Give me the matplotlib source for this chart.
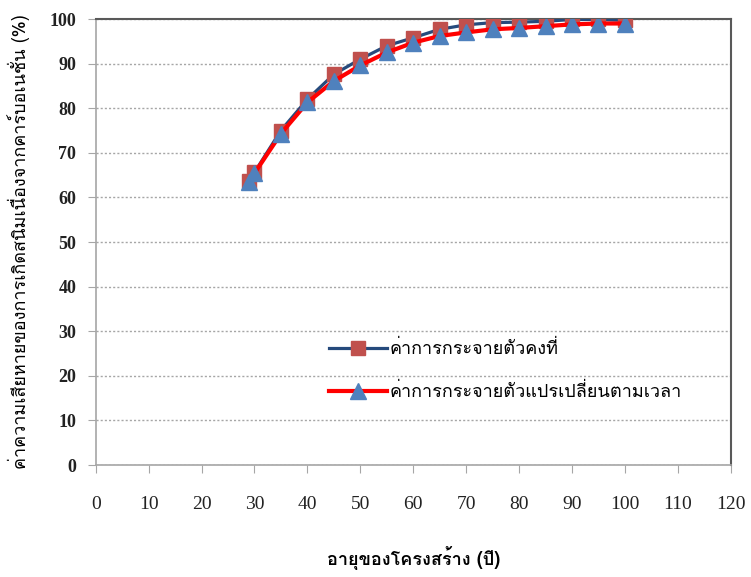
import matplotlib
matplotlib.use("Agg")
import matplotlib.pyplot as plt
from matplotlib import font_manager, ft2font

# ---- data ----
ages = [29, 30, 35, 40, 45, 50, 55, 60, 65, 70, 75, 80, 85, 90, 95, 100]
const_vals = [63.8, 65.6, 75.0, 82.0, 87.6, 91.0, 94.0, 95.8, 97.7, 98.7, 99.2, 99.3, 99.5, 99.9, 99.9, 99.7]
time_vals = [63.5, 65.4, 74.3, 81.3, 86.1, 89.6, 92.5, 94.7, 96.2, 97.0, 97.7, 98.0, 98.4, 98.8, 99.0, 99.0]
label_const = "ค่าการกระจายตัวคงที่"
label_time = "ค่าการกระจายตัวแปรเปลี่ยนตามเวลา"
xlabel = "อายุของโครงสร้าง (ปี)"
ylabel = "ค่าความเสียหายของการเกิดสนิมเนื่องจากคาร์บอเนชั่น (%)"
xticks = list(range(0, 121, 10))
yticks = list(range(0, 101, 10))


def find_thai():
    seen = set()
    for f in font_manager.fontManager.ttflist:
        if f.fname in seen:
            continue
        seen.add(f.fname)
        try:
            cm = ft2font.FT2Font(f.fname).get_charmap()
            if 0x0E04 in cm and 0x0E48 in cm:
                return f.name
        except Exception:
            pass
    return None

thai = find_thai()
thai_family = [thai, "DejaVu Sans"] if thai else ["DejaVu Sans"]

fig = plt.figure(figsize=(7.51, 5.77), dpi=100)
ax = fig.add_axes([0.1274, 0.194, 0.973 - 0.1274, 0.967 - 0.194])

ax.plot(ages, const_vals, color="#254A7C", lw=2.3, marker="s", markersize=10,
        markerfacecolor="#C0504D", markeredgecolor="#C0504D", label=label_const, zorder=3)
ax.plot(ages, time_vals, color="#FF0000", lw=3.0, marker="^", markersize=11,
        markerfacecolor="#4F81BD", markeredgecolor="#4F81BD", label=label_time, zorder=4)

ax.set_xlim(0, 120)
ax.set_ylim(0, 100)
ax.set_xticks(xticks)
ax.set_yticks(yticks)
ax.yaxis.grid(True, linestyle=(0, (1.5, 1.5)), color="#A6A6A6", lw=1.0)
ax.set_axisbelow(True)

for s in ["left", "bottom"]:
    ax.spines[s].set_color("#A6A6A6")
    ax.spines[s].set_linewidth(1.2)
for s in ["top", "right"]:
    ax.spines[s].set_color("#595959")
    ax.spines[s].set_linewidth(1.5)

ax.tick_params(axis="y", direction="out", length=6, color="#A6A6A6", pad=8)
ax.tick_params(axis="x", direction="out", length=6, color="#A6A6A6", pad=16)
for lab in ax.get_yticklabels():
    lab.set_fontfamily("Liberation Serif")
    lab.set_fontweight("bold")
    lab.set_fontsize(13)
    lab.set_color("#222222")
for lab in ax.get_xticklabels():
    lab.set_fontfamily("Liberation Serif")
    lab.set_fontsize(14)
    lab.set_color("#222222")

ax.set_xlabel(xlabel, family=thai_family, fontsize=13, fontweight="bold", labelpad=24)
ax.set_ylabel(ylabel, family=thai_family, fontsize=13, labelpad=14)

leg = ax.legend(loc="upper left", bbox_to_anchor=(322 / 751, 1 - 333 / 577),
                bbox_transform=fig.transFigure, frameon=False,
                prop={"family": thai_family, "size": 13},
                handlelength=3.2, handletextpad=0.15, labelspacing=1.35, borderaxespad=0)

fig.savefig("out.png", dpi=100)
